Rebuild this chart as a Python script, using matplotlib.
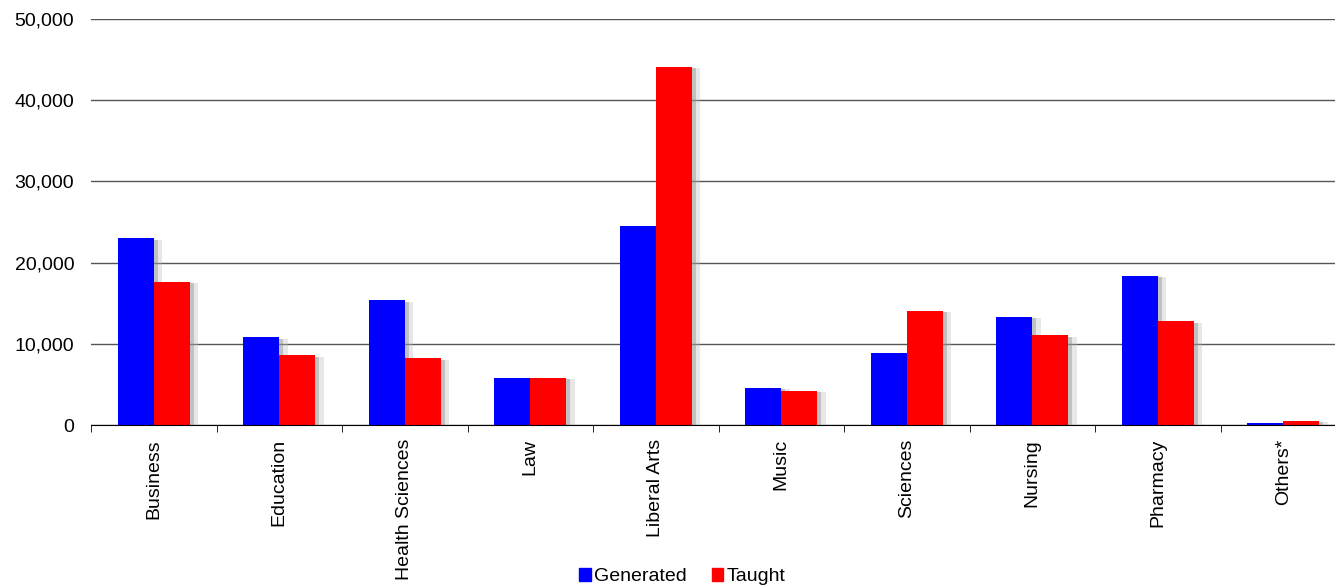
import numpy as np
import matplotlib
matplotlib.use("Agg")
import matplotlib.pyplot as plt
import matplotlib.patheffects as pe
from matplotlib.patches import Patch
from matplotlib.ticker import FuncFormatter

# datos
categorias = ["Business", "Education", "Health Sciences", "Law", "Liberal Arts",
              "Music", "Sciences", "Nursing", "Pharmacy", "Others*"]
generated = [23000, 10800, 15350, 5750, 24500, 4600, 8850, 13300, 18350, 250]
taught = [17650, 8600, 8200, 5800, 44100, 4200, 14050, 11050, 12750, 550]

plt.rcParams['font.family'] = ['Liberation Sans', 'DejaVu Sans']
fs = 14

fig = plt.figure(figsize=(13.35, 5.87), dpi=100)
# el eje sobrepasa el borde derecho como en el original
ax = fig.add_axes([91/1335, 1 - 425/587, 1255/1335, 406/587])

x = np.arange(len(categorias))
w = 0.287
# sombra suave a la derecha de cada barra
sombra = [pe.SimplePatchShadow(offset=(6, -1), shadow_rgbFace='#bbbbbb', alpha=0.35),
          pe.SimplePatchShadow(offset=(3, -1), shadow_rgbFace='#888888', alpha=0.4),
          pe.Normal()]

b1 = ax.bar(x - w/2, generated, w, color='#0000ff', zorder=3)
b2 = ax.bar(x + w/2, taught, w, color='#ff0000', zorder=3)
for b in list(b1) + list(b2):
    b.set_path_effects(sombra)

ax.set_xlim(-0.5, len(categorias) - 0.5)
ax.set_ylim(0, 50000)
ax.set_yticks(np.arange(0, 50001, 10000))
ax.yaxis.set_major_formatter(FuncFormatter(lambda v, p: f"{int(v):,}"))
ax.grid(axis='y', color='#555555', linewidth=1, zorder=0)
ax.tick_params(axis='y', length=0, pad=12, labelsize=fs)

ax.set_xticks(x)
ax.set_xticklabels(categorias, rotation=90, fontsize=fs, va='top')
ax.tick_params(axis='x', which='major', length=0, pad=10)
ax.set_xticks(np.arange(-0.5, len(categorias), 1), minor=True)
ax.tick_params(axis='x', which='minor', length=5, color='black', direction='out')

for s in ['top', 'right', 'left']:
    ax.spines[s].set_visible(False)
ax.spines['bottom'].set_color('black')
ax.spines['bottom'].set_zorder(4)

handles = [Patch(color='#0000ff'), Patch(color='#ff0000')]
fig.legend(handles=handles, labels=['Generated', 'Taught'], loc='lower center',
           bbox_to_anchor=(0.511, -0.027), ncol=2, frameon=False, fontsize=fs,
           handlelength=0.6, handleheight=0.6, handletextpad=0.15, columnspacing=1.3)

fig.savefig("out.png", dpi=100)
